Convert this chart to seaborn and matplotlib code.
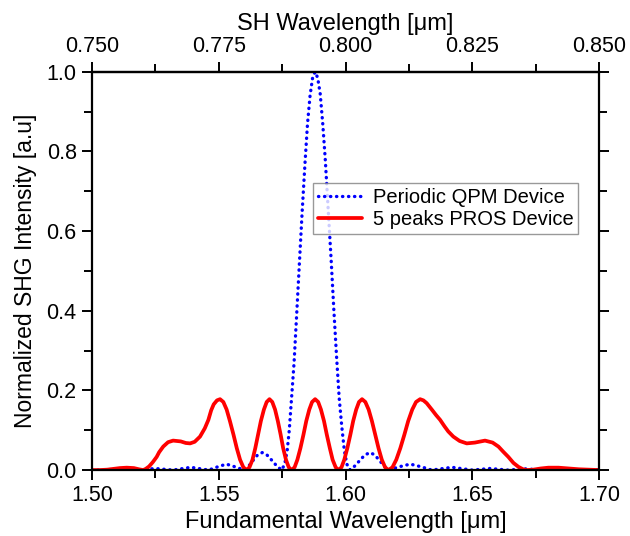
import matplotlib
matplotlib.use("Agg")
import matplotlib.pyplot as plt
import seaborn as sns
from matplotlib.ticker import MultipleLocator, FormatStrFormatter

# Periodic QPM device (blue dotted)
qpm_wl = [1.5000, 1.5040, 1.5110, 1.5180, 1.5250, 1.5320, 1.5390, 1.5460,
          1.5495, 1.5530, 1.5565, 1.5600,
          1.5618, 1.5635, 1.5653, 1.5672, 1.5690, 1.5710, 1.5729, 1.5748,
          1.5760, 1.5770, 1.5778, 1.5787, 1.5797, 1.5808, 1.5818, 1.5829,
          1.5840, 1.5850, 1.5860, 1.5870, 1.5880, 1.5890, 1.5900, 1.5910,
          1.5920, 1.5931, 1.5943, 1.5954, 1.5965, 1.5975, 1.5985, 1.5995,
          1.6005, 1.6018,
          1.6036, 1.6056, 1.6076, 1.6097, 1.6115, 1.6134, 1.6152, 1.6170,
          1.6210, 1.6255, 1.6300, 1.6340, 1.6420, 1.6500, 1.6570, 1.6640,
          1.6710, 1.6780, 1.6850, 1.6920, 1.7000]
qpm_int = [0.000, 0.000, 0.003, 0.000, 0.004, 0.000, 0.007, 0.000,
           0.008, 0.015, 0.008, 0.000,
           0.010, 0.024, 0.038, 0.044, 0.038, 0.024, 0.010, 0.000,
           0.015, 0.050, 0.100, 0.180, 0.270, 0.400, 0.520, 0.650,
           0.770, 0.870, 0.940, 0.985, 1.000, 0.985, 0.945, 0.870,
           0.780, 0.660, 0.530, 0.400, 0.280, 0.180, 0.110, 0.050,
           0.015, 0.000,
           0.010, 0.024, 0.038, 0.044, 0.038, 0.024, 0.010, 0.000,
           0.008, 0.015, 0.008, 0.000, 0.007, 0.000, 0.004, 0.000,
           0.003, 0.000, 0.002, 0.000, 0.001]

# 5 peaks PROS device (red solid)
pros_wl = [1.5000, 1.5030, 1.5060, 1.5085, 1.5110, 1.5137, 1.5165, 1.5185,
           1.5202, 1.5212, 1.5225, 1.5240, 1.5255, 1.5265, 1.5281, 1.5300,
           1.5320, 1.5350, 1.5370, 1.5387, 1.5405, 1.5426, 1.5445, 1.5459,
           1.5470, 1.5480, 1.5493, 1.5505,
           1.5518, 1.5531, 1.5544, 1.5558, 1.5571, 1.5584, 1.5597, 1.5610,
           1.5621, 1.5633, 1.5644, 1.5655, 1.5666, 1.5678, 1.5689, 1.5700,
           1.5711, 1.5722, 1.5733, 1.5744, 1.5754, 1.5765, 1.5776, 1.5787,
           1.5799, 1.5810, 1.5822, 1.5834, 1.5845, 1.5857, 1.5868, 1.5880,
           1.5892, 1.5903, 1.5915, 1.5926, 1.5938, 1.5949, 1.5961, 1.5972,
           1.5984, 1.5995, 1.6007, 1.6019, 1.6030, 1.6042, 1.6053, 1.6065,
           1.6078, 1.6091, 1.6104, 1.6117, 1.6130, 1.6143, 1.6156, 1.6169,
           1.6185, 1.6200, 1.6216, 1.6232, 1.6247, 1.6263, 1.6278, 1.6294,
           1.6307, 1.6320, 1.6340, 1.6357, 1.6373, 1.6390, 1.6405, 1.6425,
           1.6450, 1.6478, 1.6510, 1.6550, 1.6580, 1.6603, 1.6622, 1.6642,
           1.6662, 1.6682, 1.6700, 1.6714, 1.6740, 1.6770, 1.6800, 1.6840,
           1.6880, 1.6920, 1.6960, 1.7000]
pros_int = [0.000, 0.000, 0.001, 0.003, 0.005, 0.006, 0.005, 0.002,
            0.000, 0.003, 0.009, 0.020, 0.033, 0.045, 0.059, 0.070,
            0.074, 0.072, 0.068, 0.067, 0.071, 0.084, 0.105, 0.126,
            0.150, 0.165, 0.175, 0.178,
            0.171, 0.152, 0.123, 0.089, 0.055, 0.026, 0.007, 0.000,
            0.007, 0.026, 0.055, 0.089, 0.123, 0.152, 0.171, 0.178,
            0.171, 0.152, 0.123, 0.089, 0.055, 0.026, 0.007, 0.000,
            0.007, 0.026, 0.055, 0.089, 0.123, 0.152, 0.171, 0.178,
            0.171, 0.152, 0.123, 0.089, 0.055, 0.026, 0.007, 0.000,
            0.007, 0.026, 0.055, 0.089, 0.123, 0.152, 0.171, 0.178,
            0.171, 0.152, 0.123, 0.089, 0.055, 0.026, 0.007, 0.000,
            0.007, 0.026, 0.055, 0.089, 0.123, 0.152, 0.171, 0.178,
            0.175, 0.168, 0.152, 0.138, 0.126, 0.110, 0.097, 0.084,
            0.073, 0.067, 0.069, 0.074, 0.069, 0.059, 0.046, 0.033,
            0.018, 0.008, 0.002, 0.000, 0.001, 0.004, 0.006, 0.006,
            0.004, 0.002, 0.001, 0.000]

x_ticks = [1.50, 1.55, 1.60, 1.65, 1.70]
sh_ticks = [0.750, 0.775, 0.800, 0.825, 0.850]
y_ticks = [0.0, 0.2, 0.4, 0.6, 0.8, 1.0]

sns.set_style("ticks")
plt.rcParams["font.family"] = ["Liberation Sans", "DejaVu Sans"]
plt.rcParams["text.color"] = "black"
plt.rcParams["axes.labelcolor"] = "black"

fig, ax = plt.subplots(figsize=(6.3, 5.36), dpi=100)
fig.subplots_adjust(left=0.146, right=0.951, bottom=0.123, top=0.866)

sns.lineplot(x=qpm_wl, y=qpm_int, ax=ax, color="#0000ff",
             linestyle=(0, (0.1, 1.7)), dash_capstyle="round",
             linewidth=2.4, label="Periodic QPM Device", sort=False)
sns.lineplot(x=pros_wl, y=pros_int, ax=ax, color="#ff0000", linestyle="-",
             linewidth=2.7, label="5 peaks PROS Device", sort=False)

ax.set_xlim(1.50, 1.70)
ax.set_ylim(0.0, 1.0)
ax.set_xticks(x_ticks)
ax.set_yticks(y_ticks)
ax.xaxis.set_major_formatter(FormatStrFormatter("%.2f"))
ax.yaxis.set_major_formatter(FormatStrFormatter("%.1f"))
ax.xaxis.set_minor_locator(MultipleLocator(0.025))
ax.yaxis.set_minor_locator(MultipleLocator(0.1))
ax.tick_params(which="both", direction="out", right=True, width=1.4,
               labelsize=15.5, colors="black", pad=3.5)
ax.tick_params(which="major", length=7.5)
ax.tick_params(which="minor", length=5.5)

for sp in ax.spines.values():
    sp.set_linewidth(1.6)
    sp.set_color("black")

ax.set_xlabel("Fundamental Wavelength [\u03bcm]", fontsize=17, labelpad=3,
              color="black")
ax.set_ylabel("Normalized SHG Intensity [a.u]", fontsize=16.5, labelpad=7,
              color="black")

top = ax.secondary_xaxis("top", functions=(lambda x: x / 2, lambda x: x * 2))
top.set_xticks(sh_ticks)
top.xaxis.set_major_formatter(FormatStrFormatter("%.3f"))
top.xaxis.set_minor_locator(MultipleLocator(0.0125))
top.tick_params(which="both", direction="out", width=1.4, labelsize=15.5,
                pad=3.5, colors="black")
top.tick_params(which="major", length=7.5)
top.tick_params(which="minor", length=5.5)
top.spines["top"].set_linewidth(1.6)
top.spines["top"].set_color("black")
top.set_xlabel("SH Wavelength [\u03bcm]", fontsize=17, labelpad=4,
               color="black")

leg = ax.legend(loc="upper left", bbox_to_anchor=(0.436, 0.722), fontsize=14.5,
                frameon=True, fancybox=False, edgecolor="#808080",
                borderpad=0.25, handlelength=2.2, handletextpad=0.5,
                labelspacing=0.15, borderaxespad=0)
leg.get_frame().set_linewidth(1.0)
for t in leg.get_texts():
    t.set_color("black")

fig.savefig("out.png", dpi=100)
